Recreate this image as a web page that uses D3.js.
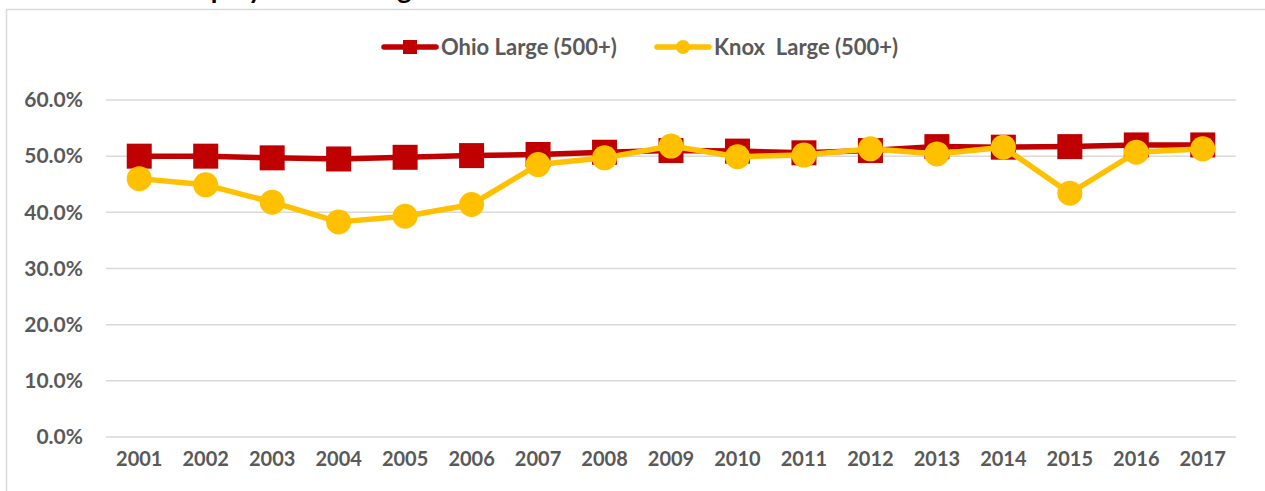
<!DOCTYPE html>
<html>
<head>
<meta charset="utf-8">
<script src="https://cdn.jsdelivr.net/npm/d3@7"></script>
<style>
  html, body { margin: 0; padding: 0; background: #fff; overflow: hidden; }
  text { font-family: Lato, "Open Sans", sans-serif; font-weight: bold; }
</style>
</head>
<body>
<svg id="chart"></svg>
<script>
var width = 1265,
    height = 491;

// data
var years = ["2001", "2002", "2003", "2004", "2005", "2006", "2007", "2008", "2009",
             "2010", "2011", "2012", "2013", "2014", "2015", "2016", "2017"];
var ohioLarge = [50.0, 50.0, 49.7, 49.5, 49.8, 50.1, 50.3, 50.7, 51.0,
                 50.9, 50.6, 51.0, 51.7, 51.6, 51.7, 52.0, 52.0];
var knoxLarge = [46.0, 44.9, 41.8, 38.3, 39.3, 41.4, 48.5, 49.7, 51.8,
                 49.9, 50.2, 51.3, 50.4, 51.6, 43.4, 50.7, 51.3];
var yTicks = [0, 10, 20, 30, 40, 50, 60];
var seriesNames = ["Ohio Large (500+)", "Knox  Large (500+)"];

var red = "#c00000", gold = "#ffc000", grey = "#595959";

var svg = d3.select("#chart")
    .attr("width", width)
    .attr("height", height);

// outer chart border (runs off the window)
svg.append("rect")
    .attr("x", 6.5).attr("y", 9.5)
    .attr("width", width + 20).attr("height", height + 20)
    .attr("fill", "none")
    .attr("stroke", "#d9d9d9")
    .attr("stroke-width", 1.5);

// title, cut off above the window like in the source image
svg.append("text")
    .attr("x", 173).attr("y", -1)
    .attr("font-size", 27)
    .attr("fill", "#000")
    .text("Employment in Large Establishments");

var x = d3.scaleBand()
    .domain(years)
    .range([106, 1236]);

var y = d3.scaleLinear()
    .domain([0, 60])
    .range([437, 100]);

// gridlines
svg.append("g")
    .selectAll("line")
    .data(yTicks)
    .enter()
      .append("line")
      .attr("x1", 106).attr("x2", 1236)
      .attr("y1", (d) => y(d)).attr("y2", (d) => y(d))
      .attr("stroke", "#d9d9d9")
      .attr("stroke-width", 1.5);

var yAxis = svg.append("g")
    .attr("transform", "translate(83,0)")
    .call(d3.axisLeft(y).tickValues(yTicks).tickSize(0).tickPadding(0)
        .tickFormat((d) => d.toFixed(1) + "%"));
yAxis.select(".domain").remove();
yAxis.selectAll("text")
    .attr("font-size", 21)
    .attr("fill", grey)
    .attr("font-family", "Lato, sans-serif");

var xAxis = svg.append("g")
    .attr("transform", "translate(0,452)")
    .call(d3.axisBottom(x).tickSize(0).tickPadding(0));
xAxis.select(".domain").remove();
xAxis.selectAll("text")
    .attr("font-size", 20)
    .attr("fill", grey)
    .attr("font-family", "Lato, sans-serif");

var cx = (d, i) => x(years[i]) + x.bandwidth() / 2;

var line = d3.line()
    .x(cx)
    .y((d) => y(d));

// Ohio series
svg.append("path")
    .datum(ohioLarge)
    .attr("d", line)
    .attr("fill", "none")
    .attr("stroke", red)
    .attr("stroke-width", 5.5)
    .attr("stroke-linejoin", "round");

svg.append("g")
    .selectAll("rect")
    .data(ohioLarge)
    .enter()
      .append("rect")
      .attr("x", (d, i) => cx(d, i) - 12.5)
      .attr("y", (d) => y(d) - 12.5)
      .attr("width", 25).attr("height", 25)
      .attr("fill", red);

// Knox series
svg.append("path")
    .datum(knoxLarge)
    .attr("d", line)
    .attr("fill", "none")
    .attr("stroke", gold)
    .attr("stroke-width", 5.5)
    .attr("stroke-linejoin", "round");

svg.append("g")
    .selectAll("circle")
    .data(knoxLarge)
    .enter()
      .append("circle")
      .attr("cx", cx)
      .attr("cy", (d) => y(d))
      .attr("r", 12.5)
      .attr("fill", gold);

// legend
var legend = svg.append("g");
var legendX = [382, 655];

legend.selectAll("line")
    .data(seriesNames)
    .enter()
      .append("line")
      .attr("x1", (d, i) => legendX[i] + 2).attr("x2", (d, i) => legendX[i] + 54)
      .attr("y1", 47).attr("y2", 47)
      .attr("stroke", (d, i) => i ? gold : red)
      .attr("stroke-width", 5.5)
      .attr("stroke-linecap", "round");

legend.append("rect")
    .attr("x", legendX[0] + 21).attr("y", 40)
    .attr("width", 14).attr("height", 14)
    .attr("fill", red);

legend.append("circle")
    .attr("cx", legendX[1] + 28).attr("cy", 47)
    .attr("r", 7)
    .attr("fill", gold);

legend.selectAll("text")
    .data(seriesNames)
    .enter()
      .append("text")
      .attr("x", (d, i) => legendX[i] + 59)
      .attr("y", 55)
      .attr("font-size", 22)
      .attr("fill", grey)
      .attr("xml:space", "preserve")
      .text((d) => d);
</script>
</body>
</html>
